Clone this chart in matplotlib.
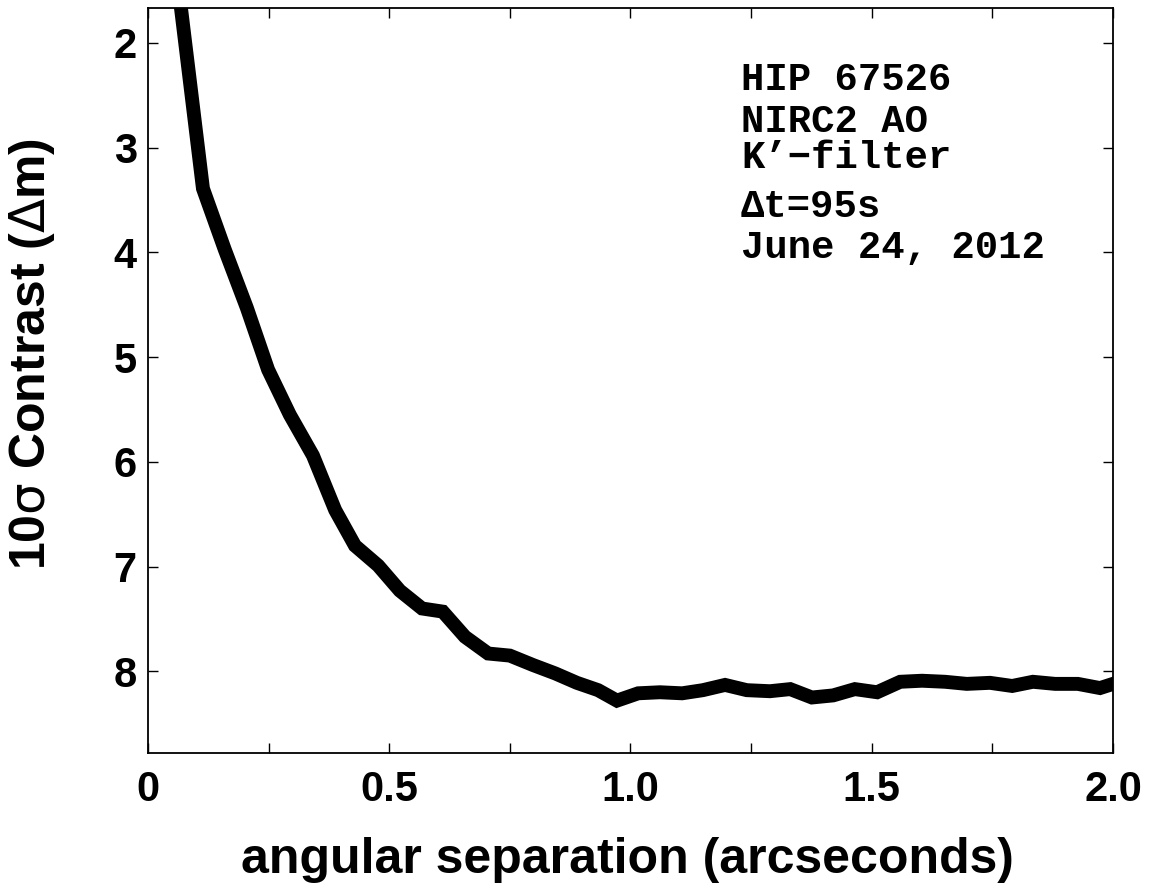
import matplotlib
matplotlib.use("Agg")
import matplotlib.pyplot as plt

sep = [0.023, 0.068, 0.114, 0.159, 0.205, 0.249, 0.294, 0.342, 0.388, 0.429,
       0.477, 0.522, 0.568, 0.611, 0.657, 0.705, 0.750, 0.798, 0.844, 0.889,
       0.933, 0.972, 1.016, 1.061, 1.107, 1.150, 1.196, 1.241, 1.289, 1.331,
       1.376, 1.420, 1.465, 1.511, 1.559, 1.604, 1.652, 1.697, 1.745, 1.791,
       1.834, 1.880, 1.927, 1.973, 2.000]
contrast = [0.5, 1.65, 3.39, 3.97, 4.53, 5.12, 5.55, 5.94, 6.46, 6.80,
            6.99, 7.23, 7.40, 7.43, 7.67, 7.83, 7.85, 7.94, 8.02, 8.11,
            8.18, 8.28, 8.21, 8.20, 8.21, 8.18, 8.13, 8.18, 8.19, 8.17,
            8.25, 8.23, 8.17, 8.20, 8.10, 8.09, 8.10, 8.12, 8.11, 8.14,
            8.10, 8.12, 8.12, 8.16, 8.12]

xticks = [0, 0.25, 0.5, 0.75, 1.0, 1.25, 1.5, 1.75, 2.0]
xticklabels = ["0", "", "0.5", "", "1.0", "", "1.5", "", "2.0"]
yticks = [2, 3, 4, 5, 6, 7, 8]
notes = ["HIP 67526", "NIRC2 AO", "K\u2019\u2212filter", "\u0394t=95s", "June 24, 2012"]

plt.rcParams['font.family'] = ['Liberation Sans', 'DejaVu Sans']
plt.rcParams['mathtext.fontset'] = 'custom'
plt.rcParams['mathtext.rm'] = 'DejaVu Sans'
plt.rcParams['mathtext.it'] = 'DejaVu Sans'
plt.rcParams['mathtext.default'] = 'rm'

fig = plt.figure(figsize=(11.54, 8.96), dpi=100)
ax = fig.add_axes([0.1282, 0.1596, 0.8363, 0.8315])
ax.plot(sep, contrast, color='black', lw=10, solid_joinstyle='miter')
ax.set_xlim(0, 2.0)
ax.set_ylim(8.78, 1.666)
ax.set_xticks(xticks)
ax.set_xticklabels(xticklabels)
ax.set_yticks(yticks)
ax.tick_params(axis='both', direction='in', length=7, width=1, top=True, right=True,
               labelsize=30)
ax.tick_params(axis='x', pad=12)
ax.tick_params(axis='y', pad=8)
for lab in ax.get_xticklabels() + ax.get_yticklabels():
    lab.set_fontweight('bold')
for s in ax.spines.values():
    s.set_linewidth(1.3)

fig.text(627/1154, 1 - 873/896, "angular separation (arcseconds)", fontsize=36,
         fontweight='bold', ha='center', va='baseline')
fig.text(32/1154, 1 - 354/896, r"10$\sigma$ Contrast ($\Delta$m)", rotation=90,
         fontsize=36, fontweight='bold', ha='center', va='center')

baselines = [90, 132, 168, 217, 258]
for t, yp in zip(notes, baselines):
    fig.text(741/1154, 1 - yp/896, t, family=['Liberation Mono', 'DejaVu Sans Mono'],
             fontweight='bold', fontsize=28, ha='left', va='baseline')

fig.savefig("out.png", dpi=100)
